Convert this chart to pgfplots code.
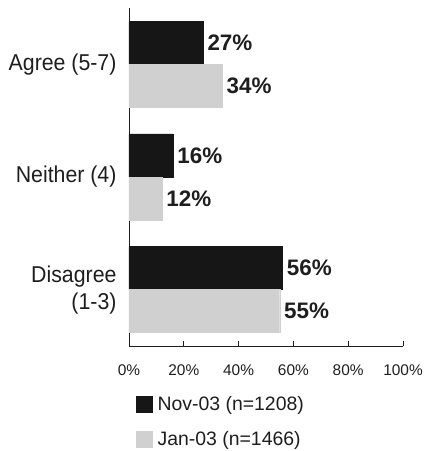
\documentclass[border=0pt]{standalone}
\usepackage{pgfplots}
\pgfplotsset{compat=1.18}
\usepackage{fontspec}
\setmainfont{Liberation Sans}
\newfontfamily\catfont[FakeStretch=0.93]{Liberation Sans}
\definecolor{novc}{RGB}{22,22,22}
\definecolor{janc}{RGB}{208,208,208}
\definecolor{txt}{RGB}{30,30,30}
\begin{document}
\begin{tikzpicture}
\path[use as bounding box] (-129bp,-105bp) rectangle (297bp,346bp);
\begin{axis}[
  at={(0,0)}, anchor=south west,
  scale only axis, width=274bp, height=338bp,
  xmin=0, xmax=100, ymin=-0.5, ymax=2.5,
  axis x line=bottom, axis y line=left,
  axis line style={-, line width=0.9pt, color=txt},
  /pgf/number format/assume math mode=true,
  xtick={0,20,40,60,80,100},
  xticklabels={0\%,20\%,40\%,60\%,80\%,100\%},
  xtick style={line width=0.8pt, color=txt},
  xtick align=inside,
  major tick length=5bp,
  xticklabel style={font=\fontsize{15.5}{18}\selectfont, color=txt, yshift=-15bp},
  ytick={0,1,2},
  yticklabels={{Disagree\\(1-3)},{Neither (4)},{Agree (5-7)}},
  yticklabel style={font=\catfont\fontsize{23}{27}\selectfont, align=right, color=txt, xshift=-4bp},
  ytick style={draw=none},
  xbar, bar width=43bp,
  nodes near coords={\pgfmathprintnumber{\pgfplotspointmeta}\%},
  point meta=x,
  every node near coord/.append style={font=\bfseries\fontsize{22.5}{26}\selectfont, color=txt, anchor=west, xshift=1bp},
  legend style={at={(0,-0.138)}, anchor=north west, xshift=4bp, draw=none, fill=none,
    font=\fontsize{19.5}{23}\selectfont, text=txt, row sep=15bp,
    cells={anchor=west}, nodes={inner xsep=5bp}},
  legend image code/.code={\fill[#1] (0bp,-8bp) rectangle (16bp,8bp);},
  clip=false,
]
\addplot[fill=novc, draw=novc, bar shift=21.5bp] coordinates {(56,0) (16,1) (27,2)};
\addlegendentry{Nov-03 (n=1208)}
\addplot[fill=janc, draw=janc, bar shift=-21.5bp] coordinates {(55,0) (12,1) (34,2)};
\addlegendentry{Jan-03 (n=1466)}
\end{axis}
\end{tikzpicture}
\end{document}
